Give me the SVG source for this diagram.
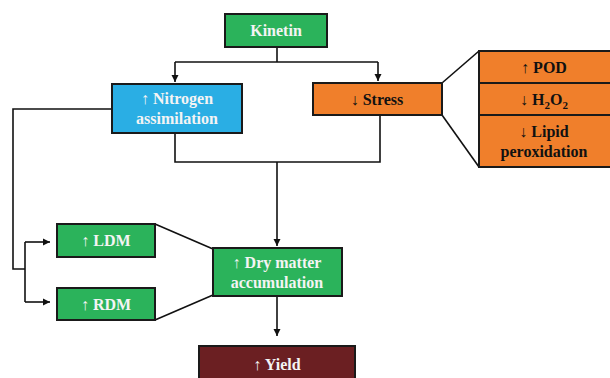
<svg xmlns="http://www.w3.org/2000/svg" width="610" height="378" viewBox="0 0 610 378">
<style>
.box{stroke:#1a1a1a;stroke-width:2}
.g{fill:#2bb35b}.b{fill:#2aaee4}.o{fill:#f07f2b}.m{fill:#6b1f22}
text{font-family:"Liberation Serif","Times New Roman",serif;font-weight:bold;font-size:16px;text-anchor:middle}
.w{fill:#f4f4f4}.k{fill:#111}
.c{fill:none;stroke:#111;stroke-width:1.6}
</style>
<defs>
<marker id="ah" markerWidth="8" markerHeight="8" refX="7" refY="4" orient="auto" markerUnits="userSpaceOnUse">
<path d="M0,0.5 L7,4 L0,7.5 Z" fill="#111"/>
</marker>
</defs>
<g id="connectors">
<path class="c" d="M277,47 V62"/>
<path class="c" d="M175,62 H378"/>
<path class="c" d="M175,62 V82" marker-end="url(#ah)"/>
<path class="c" d="M378,62 V81" marker-end="url(#ah)"/>
<path class="c" d="M175,133 V162 H380 V115"/>
<path class="c" d="M277,162 V246" marker-end="url(#ah)"/>
<path class="c" d="M112,109 H13 V269 H25"/>
<path class="c" d="M25,242 V302"/>
<path class="c" d="M25,242 H50" marker-end="url(#ah)"/>
<path class="c" d="M25,302 H50" marker-end="url(#ah)"/>
<path class="c" d="M155,224 L213,249"/>
<path class="c" d="M155,320 L213,295"/>
<path class="c" d="M442,83 L479,51"/>
<path class="c" d="M442,115 L479,167"/>
<path class="c" d="M277,296 V336" marker-end="url(#ah)"/>
</g>
<g id="kinetin"><rect class="box g" x="225" y="14" width="102" height="33"/><text class="w" x="276" y="36">Kinetin</text></g>
<g id="nitrogen"><rect class="box b" x="112" y="84" width="130" height="49"/><text class="w" x="177" y="104">↑ Nitrogen</text><text class="w" x="177" y="124">assimilation</text></g>
<g id="stress"><rect class="box o" x="313" y="83" width="129" height="32"/><text class="k" x="377" y="105">↓ Stress</text></g>
<g id="pod"><rect class="box o" x="479" y="51" width="133" height="32"/><text class="k" x="544" y="73">↑ POD</text></g>
<g id="h2o2"><rect class="box o" x="479" y="83" width="133" height="32"/><text class="k" x="544" y="105">↓ H<tspan font-size="11" dy="4">2</tspan><tspan dy="-4">O</tspan><tspan font-size="11" dy="4">2</tspan></text></g>
<g id="lipid"><rect class="box o" x="479" y="115" width="133" height="52"/><text class="k" x="544" y="137">↓ Lipid</text><text class="k" x="544" y="157">peroxidation</text></g>
<g id="ldm"><rect class="box g" x="57" y="224" width="98" height="33"/><text class="w" x="106" y="246">↑ LDM</text></g>
<g id="rdm"><rect class="box g" x="57" y="288" width="98" height="32"/><text class="w" x="106" y="310">↑ RDM</text></g>
<g id="drymatter"><rect class="box g" x="213" y="248" width="129" height="48"/><text class="w" x="277" y="268">↑ Dry matter</text><text class="w" x="277" y="288">accumulation</text></g>
<g id="yield"><rect class="box m" x="199" y="346" width="156" height="40"/><text class="w" x="277" y="370">↑ Yield</text></g>
</svg>
